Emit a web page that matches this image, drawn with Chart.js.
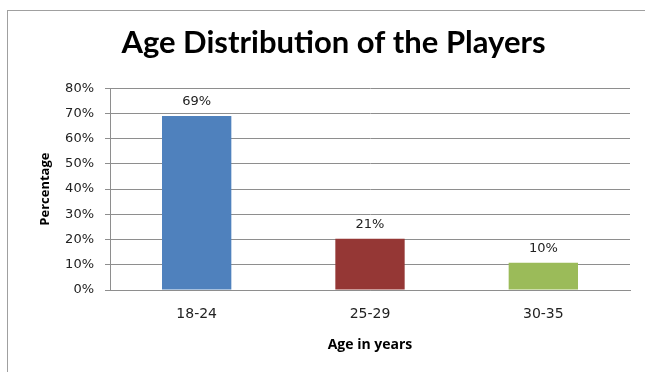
<!DOCTYPE html>
<html>
<head>
<meta charset="utf-8">
<script src="https://cdn.jsdelivr.net/npm/chart.js"></script>
<style>
  html, body { margin: 0; padding: 0; background: #fff; }
  #wrap { width: 645px; height: 372px; position: relative; }
</style>
</head>
<body>
<div id="wrap"><canvas id="ageChart" width="645" height="372"></canvas></div>
<script>
// age groups and share of players (bar heights)
const ageGroups = ["18-24", "25-29", "30-35"];
const playerShare = [69, 20.3, 10.8];
const shareLabels = ["69%", "21%", "10%"];
const barColors = ["#4f81bd", "#953735", "#9bbb59"];
const yTicks = [0, 10, 20, 30, 40, 50, 60, 70, 80];

const GRID = "#8e8e8e";

// frame round the chart, like the office chart border
const frame = {
  id: "frame",
  beforeDraw(chart) {
    const c = chart.ctx;
    c.save();
    c.fillStyle = "#fff";
    c.fillRect(0, 0, chart.width, chart.height);
    c.strokeStyle = "#a0a0a0";
    c.lineWidth = 1;
    c.strokeRect(7.5, 10.5, chart.width + 20, chart.height + 20);
    c.restore();
  }
};

// value labels above each bar
const barLabels = {
  id: "barLabels",
  afterDatasetsDraw(chart) {
    const c = chart.ctx;
    const meta = chart.getDatasetMeta(0);
    c.save();
    c.font = "13px 'DejaVu Sans'";
    c.fillStyle = "#222";
    c.textAlign = "center";
    c.textBaseline = "bottom";
    meta.data.forEach((bar, i) => {
      c.fillText(shareLabels[i], bar.x, bar.y - 8);
    });
    c.restore();
  }
};

new Chart(document.getElementById("ageChart"), {
  type: "bar",
  data: {
    labels: ageGroups,
    datasets: [{
      data: playerShare,
      backgroundColor: barColors,
      borderWidth: 0,
      barPercentage: 0.4,
      categoryPercentage: 1
    }]
  },
  options: {
    responsive: false,
    animation: false,
    events: [],
    layout: { padding: { left: 37, right: 15, top: 0, bottom: 19 } },
    plugins: {
      legend: { display: false },
      tooltip: { enabled: false },
      title: {
        display: true,
        text: "Age Distribution of the Players",
        color: "#000",
        font: { family: "Lato", size: 31, weight: "bold" },
        padding: { top: 24, bottom: 27 }
      }
    },
    scales: {
      x: {
        grid: { display: false },
        border: { display: true, color: GRID, width: 1 },
        ticks: { color: "#222", font: { family: "DejaVu Sans", size: 14 }, padding: 8 },
        title: {
          display: true,
          text: "Age in years",
          color: "#000",
          font: { family: "Open Sans", size: 14, weight: "bold" },
          padding: { top: 0, bottom: 0 }
        },
        afterFit(scale) { scale.height = 63; }
      },
      y: {
        min: 0,
        max: 80,
        afterBuildTicks(scale) { scale.ticks = yTicks.map(v => ({ value: v })); },
        grid: { color: GRID, lineWidth: 1, tickLength: 5, drawTicks: true },
        border: { display: true, color: GRID, width: 1 },
        ticks: {
          color: "#222",
          font: { family: "DejaVu Sans", size: 13 },
          padding: 11,
          callback: v => v + "%"
        },
        title: {
          display: true,
          text: "Percentage",
          color: "#000",
          font: { family: "Open Sans", size: 13, weight: "bold" },
          padding: { top: 0, bottom: 0 }
        },
        afterFit(scale) { scale.width = 73; }
      }
    }
  },
  plugins: [frame, barLabels]
});
</script>
</body>
</html>
